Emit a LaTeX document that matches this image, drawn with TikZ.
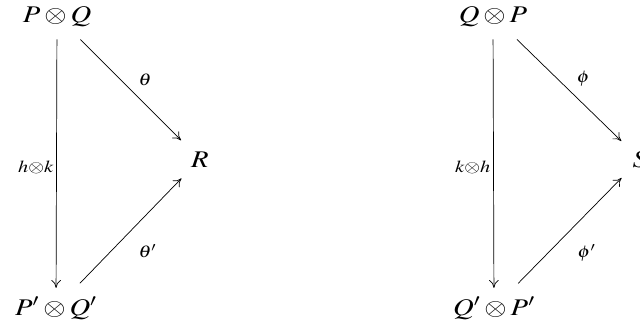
\documentclass[tikz,border=0pt]{standalone}
\usepackage{mathptmx}
\usetikzlibrary{arrows.meta}
\newcommand{\wide}[1]{\scalebox{1.2}[1]{#1}}
\begin{document}
\begin{tikzpicture}[
  x=0.025cm, y=-0.025cm,
  obj/.style={inner sep=0pt, anchor=base, font=\fontsize{17}{20}\selectfont\boldmath},
  lbl/.style={inner sep=2pt, font=\fontsize{12}{14}\selectfont},
  arr/.style={-{To[length=2mm,width=2.4mm]}, line width=0.5pt},
  vert/.style={arr, shorten <=9pt, shorten >=6pt},
  diag/.style={arr, shorten <=13pt, shorten >=11pt}
]
\useasboundingbox (0,0) rectangle (640,324);
% left triangle
\node[obj] (PQ) at (57,22) {\wide{$P\otimes Q$}};
\node[obj] (PQd) at (56,315) {\wide{$P'\otimes Q'$}};
\node[obj] (R) at (200,167) {\wide{$R$}};
\draw[vert] (PQ) -- node[lbl, left, yshift=-4pt] {\wide{$h{\otimes}k$}} (PQd);
\draw[diag] (PQ) -- node[lbl, above right, xshift=4pt] {\wide{$\theta$}} (R);
\draw[diag] (PQd) -- node[lbl, below right, xshift=4pt, yshift=-7pt] {\wide{$\theta'$}} (R);
% right triangle
\node[obj] (QP) at (493,22) {\wide{$Q\otimes P$}};
\node[obj] (QPd) at (494,315) {\wide{$Q'\otimes P'$}};
\node[obj] (S) at (640,167) {\wide{$S$}};
\draw[vert] (QP) -- node[lbl, left, yshift=-4pt] {\wide{$k{\otimes}h$}} (QPd);
\draw[diag] (QP) -- node[lbl, above right, xshift=4pt] {\wide{$\phi$}} (S);
\draw[diag] (QPd) -- node[lbl, below right, xshift=4pt, yshift=-7pt] {\wide{$\phi'$}} (S);
\end{tikzpicture}
\end{document}
